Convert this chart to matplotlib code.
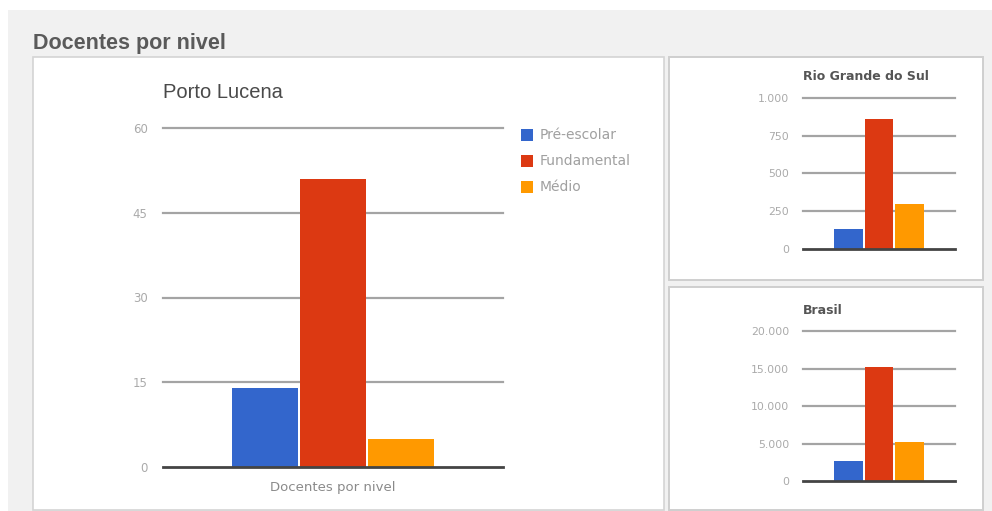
import matplotlib.pyplot as plt
from matplotlib.patches import Rectangle

W, H = 992, 511

niveis = ['Pré-escolar', 'Fundamental', 'Médio']
cores = ['#3366cc', '#dc3912', '#ff9900']

porto_lucena = [14, 51, 5]
rio_grande = [132, 860, 298]
brasil = [2700, 15200, 5200]

ticks_pl = [0, 15, 30, 45, 60]
ticks_rs = [0, 250, 500, 750, 1000]
ticks_br = [0, 5000, 10000, 15000, 20000]
labels_rs = ['0', '250', '500', '750', '1.000']
labels_br = ['0', '5.000', '10.000', '15.000', '20.000']

plt.rcParams['font.family'] = ['Liberation Sans', 'DejaVu Sans']
leve = ['DejaVu Sans']

fig = plt.figure(figsize=(W / 100, H / 100), dpi=100)
fig.patch.set_facecolor('white')


def fx(x):
    return x / W


def fy(y):
    return 1 - y / H


def rect(x0, y0, x1, y1, **kw):
    fig.patches.append(Rectangle((fx(x0), fy(y1)), fx(x1 - x0), (y1 - y0) / H,
                                 transform=fig.transFigure, **kw))


def eixo(x0, y0, x1, y1):
    ax = fig.add_axes([fx(x0), fy(y1), fx(x1 - x0), (y1 - y0) / H])
    ax.set_zorder(5)
    return ax


# fundo e paineis
rect(8, 10, 992, 511, facecolor='#f1f1f1', edgecolor='none', zorder=-3)
rect(33, 57, 664, 510, facecolor='white', edgecolor='#d4d4d4', lw=1.2, zorder=-2)
rect(669, 57, 983, 280, facecolor='white', edgecolor='#cfcfcf', lw=1.4, zorder=-2)
rect(669, 287, 983, 510, facecolor='white', edgecolor='#cfcfcf', lw=1.4, zorder=-2)

fig.text(fx(33), fy(43), 'Docentes por nivel', fontsize=15.5, fontweight='bold',
         color='#5a5a5a', va='center', ha='left')


def grafico(ax, valores, ticks, labels, largura, fs_tick, pad):
    pos = [-1, 0, 1]
    ax.bar(pos, valores, width=largura, color=cores, zorder=3)
    ax.set_xlim(-2.5, 2.5)
    ax.set_ylim(ticks[0], ticks[-1])
    ax.set_yticks(ticks)
    ax.set_yticklabels(labels, fontsize=fs_tick, color='#aaaaaa', family=leve)
    ax.tick_params(axis='y', length=0, pad=pad)
    ax.set_xticks([])
    for s in ax.spines.values():
        s.set_visible(False)
    for t in ticks[1:]:
        ax.axhline(t, color='#a4a4a4', lw=1.6, zorder=1, clip_on=False)
    ax.axhline(ticks[0], color='#444444', lw=2, zorder=4, clip_on=False)
    ax.patch.set_alpha(0)


ax1 = eixo(163, 128, 503, 467)
grafico(ax1, porto_lucena, ticks_pl, [str(t) for t in ticks_pl], 0.97, 8.5, 11)
ax1.set_xlabel('Docentes por nivel', fontsize=9.5, color='#8a8a8a', labelpad=10,
               family=leve)
fig.text(fx(163), fy(93), 'Porto Lucena', fontsize=14.5, color='#4a4a4a',
         va='center', ha='left')

# legenda
for i, (nome, cor) in enumerate(zip(niveis, cores)):
    yc = 135 + 26 * i
    rect(521, yc - 6, 533, yc + 6, facecolor=cor, edgecolor='none', zorder=-1)
    fig.text(fx(540), fy(yc), nome, fontsize=10, color='#a0a0a0', va='center',
             ha='left', family=leve)

ax2 = eixo(803, 98, 955, 249)
grafico(ax2, rio_grande, ticks_rs, labels_rs, 0.93, 7.8, 10)
fig.text(fx(803), fy(77), 'Rio Grande do Sul', fontsize=9, fontweight='bold',
         color='#555555', va='center', ha='left', family=leve)

ax3 = eixo(803, 331, 955, 481)
grafico(ax3, brasil, ticks_br, labels_br, 0.93, 7.8, 10)
fig.text(fx(803), fy(310), 'Brasil', fontsize=9, fontweight='bold',
         color='#555555', va='center', ha='left', family=leve)

fig.savefig('out.png', dpi=100, facecolor=fig.get_facecolor())
